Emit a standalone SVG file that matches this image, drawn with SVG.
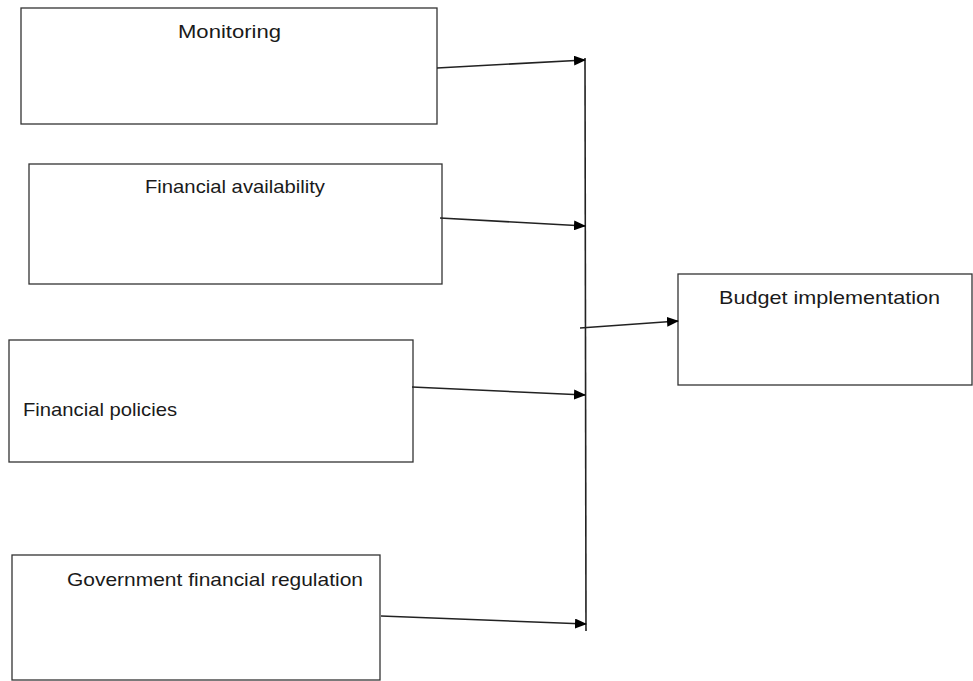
<svg xmlns="http://www.w3.org/2000/svg" width="973" height="681" viewBox="0 0 973 681">
<defs>
<marker id="ah" markerWidth="12" markerHeight="10" refX="11" refY="5" orient="auto" markerUnits="userSpaceOnUse">
<path d="M0,0 L12,5 L0,10 Z" fill="#000"/>
</marker>
<style>
.box{fill:#fff;stroke:#333;stroke-width:1.3}
.lbl{font-family:"Liberation Sans",Arial,sans-serif;font-size:18.5px;fill:#1a1a1a}
.con{stroke:#222;stroke-width:1.6;fill:none}
</style>
</defs>
<rect width="973" height="681" fill="#fff"/>
<g id="monitoring">
<rect class="box" x="21" y="8" width="416" height="116"/>
<text class="lbl" x="178" y="38" textLength="103" lengthAdjust="spacingAndGlyphs">Monitoring</text>
</g>
<g id="financial-availability">
<rect class="box" x="29" y="164" width="413" height="120"/>
<text class="lbl" x="145" y="193" textLength="180" lengthAdjust="spacingAndGlyphs">Financial availability</text>
</g>
<g id="financial-policies">
<rect class="box" x="9" y="340" width="404" height="122"/>
<text class="lbl" x="23" y="416" textLength="154" lengthAdjust="spacingAndGlyphs">Financial policies</text>
</g>
<g id="government-regulation">
<rect class="box" x="12" y="555" width="368" height="125"/>
<text class="lbl" x="67" y="586" textLength="296" lengthAdjust="spacingAndGlyphs">Government financial regulation</text>
</g>
<g id="budget-implementation">
<rect class="box" x="678" y="274" width="294" height="111"/>
<text class="lbl" x="719" y="304" textLength="221" lengthAdjust="spacingAndGlyphs">Budget implementation</text>
</g>
<g id="connectors">
<line class="con" x1="585" y1="58" x2="586" y2="631"/>
<line class="con" x1="437" y1="68" x2="585" y2="60" marker-end="url(#ah)"/>
<line class="con" x1="440" y1="218" x2="585" y2="226" marker-end="url(#ah)"/>
<line class="con" x1="412" y1="387" x2="585" y2="395" marker-end="url(#ah)"/>
<line class="con" x1="381" y1="616" x2="586" y2="624" marker-end="url(#ah)"/>
<line class="con" x1="580" y1="328" x2="678" y2="321" marker-end="url(#ah)"/>
</g>
</svg>
